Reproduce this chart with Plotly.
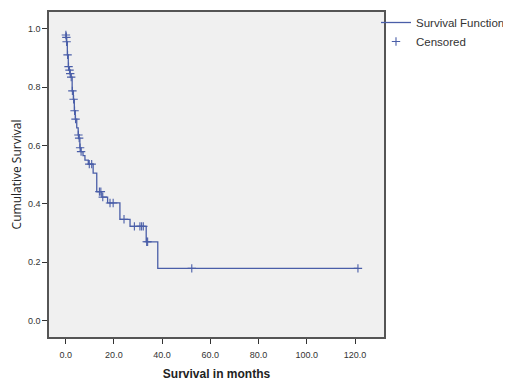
import plotly.graph_objects as go

# Kaplan-Meier step function (time in months, cumulative survival)
step_time = [0, 0.2, 0.4, 0.7, 1.1, 1.5, 1.8, 2.2, 2.7, 3.2, 3.6, 4.0, 4.6, 5.2, 5.5,
             5.9, 6.3, 7.2, 8.0, 9.4, 11.4, 12.9, 15.0, 17.4, 22.5, 26.7, 33.4, 38.2, 121.2]
step_surv = [0.985, 0.97, 0.955, 0.91, 0.87, 0.858, 0.846, 0.834, 0.787, 0.758, 0.719, 0.69,
             0.66, 0.636, 0.625, 0.592, 0.579, 0.565, 0.55, 0.536, 0.505, 0.442, 0.423, 0.403,
             0.347, 0.323, 0.27, 0.179, 0.179]

# Censored observations
cens_time = [0.1, 0.3, 0.4, 0.8, 1.2, 1.6, 1.9, 2.3, 2.8, 3.3, 3.7, 4.1, 5.3, 5.6, 6.0, 6.4,
             9.8, 10.8, 14.0, 14.6, 15.4, 18.4, 19.7, 24.2, 28.5, 30.8, 31.5, 32.2, 33.6, 34.0,
             52.3, 121.2]
cens_surv = [0.978, 0.97, 0.955, 0.91, 0.87, 0.858, 0.846, 0.834, 0.787, 0.758, 0.719, 0.69,
             0.636, 0.625, 0.592, 0.579, 0.536, 0.536, 0.442, 0.442, 0.423, 0.403, 0.403, 0.347,
             0.323, 0.323, 0.323, 0.323, 0.27, 0.27, 0.179, 0.179]

x_ticks = [0, 20, 40, 60, 80, 100, 120]
y_ticks = [0.0, 0.2, 0.4, 0.6, 0.8, 1.0]

blue = "#4a5ea8"

fig = go.Figure()
fig.add_trace(go.Scatter(
    x=step_time, y=step_surv, mode="lines", line_shape="hv",
    line=dict(color=blue, width=1.3), name="Survival Function"))
fig.add_trace(go.Scatter(
    x=cens_time, y=cens_surv, mode="markers", name="Censored",
    marker=dict(symbol="cross-thin", size=6, color=blue,
                line=dict(color=blue, width=1.1))))

tickfont = dict(family="Liberation Sans", size=9, color="#333333")
fig.update_layout(
    width=503, height=381,
    margin=dict(l=41, r=127, t=4, b=52, autoexpand=False),
    paper_bgcolor="white", plot_bgcolor="#f0f0f0",
    showlegend=True,
    legend=dict(xref="container", yref="container", x=0.7316, y=1.0,
                xanchor="left", yanchor="top",
                font=dict(family="Liberation Sans", size=11.5, color="#333333"),
                bgcolor="rgba(0,0,0,0)", tracegroupgap=0, itemwidth=30),
    xaxis=dict(range=[-6.9, 132], tickvals=x_ticks, tickformat=".1f", automargin=False,
               showgrid=False, zeroline=False, showline=True, mirror=True,
               linecolor="#555555", linewidth=1.5, ticks="outside", ticklen=5,
               tickcolor="#333333", tickfont=tickfont, ticklabelstandoff=3,
               title=dict(text="<b>Survival in months</b>", standoff=11,
                          font=dict(family="Liberation Sans", size=12, color="#222222"))),
    yaxis=dict(range=[-0.056, 1.057], tickvals=y_ticks, tickformat=".1f", automargin=False,
               showgrid=False, zeroline=False, showline=True, mirror=True,
               linecolor="#555555", linewidth=1.5, ticks="outside", ticklen=5,
               tickcolor="#333333", tickfont=tickfont,
               title=dict(text="Cumulative Survival", standoff=5,
                          font=dict(family="Open Sans", size=12, color="#222222"))),
)

fig.write_html("out.html")
